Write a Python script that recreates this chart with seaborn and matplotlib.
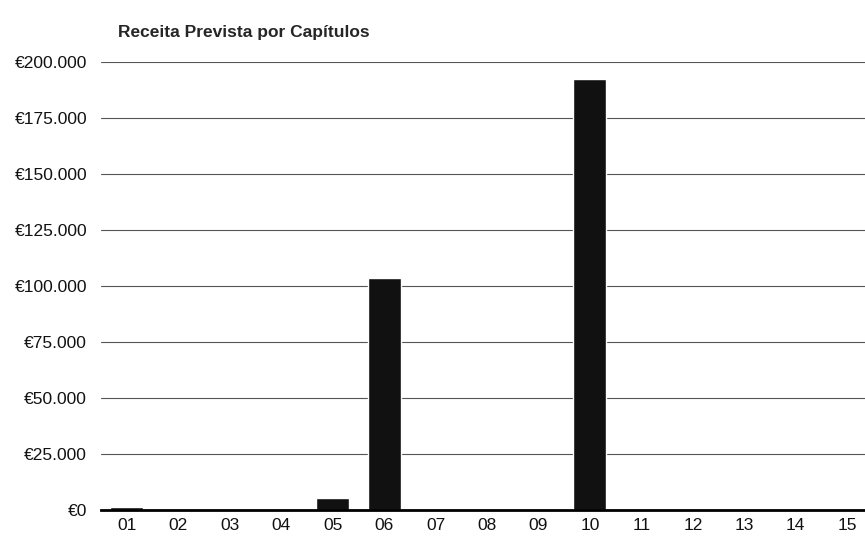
import matplotlib.pyplot as plt
import matplotlib.ticker as mticker
import pandas as pd
import seaborn as sns

# chapters and forecast revenue (EUR)
capitulos = ["01", "02", "03", "04", "05", "06", "07", "08",
             "09", "10", "11", "12", "13", "14", "15"]
receita = [1300, 0, 0, 0, 5400, 103500, 0, 0,
           0, 192400, 0, 0, 0, 0, 0]
yticks = [0, 25000, 50000, 75000, 100000, 125000, 150000, 175000, 200000]

df = pd.DataFrame({"capitulo": capitulos, "receita": receita})

sns.set_style("white")
plt.rcParams['font.family'] = ['Liberation Sans', 'DejaVu Sans']

fig = plt.figure(figsize=(8.65, 5.4), dpi=100)
ax = fig.add_axes([101 / 865, 30 / 540, 772 / 865, 448 / 540])

sns.barplot(data=df, x="capitulo", y="receita", color="#111111",
            width=0.64, saturation=1, ax=ax, zorder=3)

ax.set_ylim(0, 200000)
ax.set_yticks(yticks)
ax.yaxis.set_major_formatter(
    mticker.FuncFormatter(lambda v, p: "€" + f"{int(v):,}".replace(",", ".")))
ax.grid(axis="y", color="#555555", linewidth=0.8, zorder=0)
ax.set_axisbelow(True)

for side in ["top", "right", "left"]:
    ax.spines[side].set_visible(False)
ax.spines["bottom"].set_color("black")
ax.spines["bottom"].set_linewidth(2)
ax.spines["bottom"].set_zorder(4)

ax.tick_params(axis="both", length=0, labelsize=12.5, colors="#111111")
ax.tick_params(axis="y", pad=10)
ax.tick_params(axis="x", pad=6)
ax.set_xlabel("")
ax.set_ylabel("")

fig.text(118 / 865, 1 - 33 / 540, "Receita Prevista por Capítulos",
         fontsize=12.5, fontweight="bold", va="center", ha="left")

fig.savefig("out.png", dpi=100)
